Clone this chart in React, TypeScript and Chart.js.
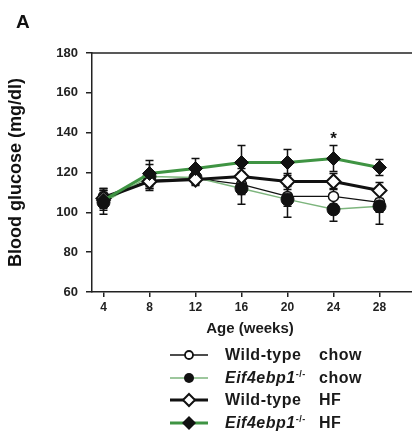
import React, { useEffect, useRef } from "react";
import { Chart, registerables } from "chart.js";

Chart.register(...registerables);

const ages = [4, 8, 12, 16, 20, 24, 28];
const xTicks = [4, 8, 12, 16, 20, 24, 28];
const yTicks = [60, 80, 100, 120, 140, 160, 180];

const wtChow = [108, 116, 117, 114, 108, 108, 105];
const wtChowSem = [4, 4, 3, 5, 5, 4, 5];
const koChow = [105, 118, 117.5, 112, 106.5, 101.5, 103];
const koChowSem = [6, 6, 3, 8, 9, 6, 9];
const wtHf = [107, 115.5, 116.5, 118, 115.5, 115.5, 111];
const wtHfSem = [5, 4.5, 3, 4, 4, 4, 4];
const koHf = [106, 119.5, 122, 125, 125, 127, 122.5];
const koHfSem = [5, 6.5, 5, 8.5, 6.5, 6.5, 4];
const significance = ["", "", "", "", "", "*", ""];

const GREEN = "#3f9443";
const LIGHT_GREEN = "#7db57d";
const FONT = '"Liberation Sans", Arial, sans-serif';

const toPoints = (vals: number[]) => vals.map((v, i) => ({ x: ages[i], y: v }));

const errorBarPlugin = {
  id: "errorBars",
  beforeDatasetsDraw(chart: any) {
    const { ctx } = chart;
    const x = chart.scales.x;
    const y = chart.scales.y;
    ctx.save();
    chart.data.datasets.forEach((ds: any) => {
      const sem: number[] = ds.sem;
      if (!sem) return;
      ctx.strokeStyle = "#111";
      ctx.lineWidth = 1.5;
      ds.data.forEach((p: any, i: number) => {
        const px = x.getPixelForValue(p.x);
        const top = y.getPixelForValue(p.y + sem[i]);
        const bot = y.getPixelForValue(p.y - sem[i]);
        ctx.beginPath();
        ctx.moveTo(px, top);
        ctx.lineTo(px, bot);
        ctx.moveTo(px - 4, top);
        ctx.lineTo(px + 4, top);
        ctx.moveTo(px - 4, bot);
        ctx.lineTo(px + 4, bot);
        ctx.stroke();
      });
    });
    ctx.restore();
  },
  afterDatasetsDraw(chart: any) {
    const { ctx, chartArea } = chart;
    const x = chart.scales.x;
    const y = chart.scales.y;
    ctx.save();
    ctx.strokeStyle = "#222";
    ctx.lineWidth = 1.5;
    ctx.beginPath();
    ctx.moveTo(chartArea.left, chartArea.top);
    ctx.lineTo(chartArea.right, chartArea.top);
    ctx.stroke();
    ctx.fillStyle = "#111";
    ctx.font = `bold 17px ${FONT}`;
    ctx.textAlign = "center";
    ctx.textBaseline = "middle";
    significance.forEach((s, i) => {
      if (!s) return;
      const px = x.getPixelForValue(ages[i]);
      const py = y.getPixelForValue(koHf[i] + koHfSem[i]) - 9;
      ctx.fillText(s, px, py + 3);
    });
    ctx.restore();
  },
};

function ChartCanvas() {
  const ref = useRef<HTMLCanvasElement | null>(null);
  useEffect(() => {
    if (!ref.current) return;
    const chart = new Chart(ref.current, {
      type: "line",
      data: {
        datasets: [
          {
            label: "Eif4ebp1-/- HF",
            data: toPoints(koHf),
            sem: koHfSem,
            borderColor: GREEN,
            borderWidth: 3,
            pointStyle: "rectRot",
            pointRadius: 7,
            pointBackgroundColor: "#111",
            pointBorderColor: "#111",
            pointBorderWidth: 1,
          },
          {
            label: "Wild-type HF",
            data: toPoints(wtHf),
            sem: wtHfSem,
            borderColor: "#111",
            borderWidth: 3,
            pointStyle: "rectRot",
            pointRadius: 7,
            pointBackgroundColor: "#fff",
            pointBorderColor: "#111",
            pointBorderWidth: 2,
          },
          {
            label: "Eif4ebp1-/- chow",
            data: toPoints(koChow),
            sem: koChowSem,
            borderColor: LIGHT_GREEN,
            borderWidth: 1.5,
            pointStyle: "circle",
            pointRadius: 6.5,
            pointBackgroundColor: "#111",
            pointBorderColor: "#111",
            pointBorderWidth: 1,
          },
          {
            label: "Wild-type chow",
            data: toPoints(wtChow),
            sem: wtChowSem,
            borderColor: "#111",
            borderWidth: 1.2,
            pointStyle: "circle",
            pointRadius: 5,
            pointBackgroundColor: "#fff",
            pointBorderColor: "#111",
            pointBorderWidth: 1.5,
          },
        ] as any,
      },
      options: {
        responsive: false,
        animation: false,
        devicePixelRatio: 1,
        layout: { padding: { top: 53, left: 0, right: 0, bottom: 0 } },
        plugins: { legend: { display: false }, tooltip: { enabled: false } },
        elements: { line: { tension: 0 } },
        scales: {
          x: {
            type: "linear",
            min: 3,
            max: 31,
            afterBuildTicks: (s: any) => {
              s.ticks = xTicks.map((v) => ({ value: v }));
            },
            afterFit: (s: any) => {
              s.height = 48;
            },
            grid: {
              display: true,
              drawOnChartArea: false,
              drawTicks: true,
              tickLength: 5,
              color: "#222",
              lineWidth: 1.5,
            },
            border: { display: true, color: "#222", width: 1.5 },
            ticks: {
              color: "#222",
              font: { family: FONT, size: 12, weight: "bold" },
              padding: 3,
              maxRotation: 0,
              autoSkip: false,
            },
          },
          y: {
            type: "linear",
            min: 60,
            max: 180,
            afterBuildTicks: (s: any) => {
              s.ticks = yTicks.map((v) => ({ value: v }));
            },
            afterFit: (s: any) => {
              s.width = 92;
            },
            grid: {
              display: true,
              drawOnChartArea: false,
              drawTicks: true,
              tickLength: 6,
              color: "#222",
              lineWidth: 1.5,
            },
            border: { display: true, color: "#222", width: 1.5 },
            ticks: {
              color: "#222",
              font: { family: FONT, size: 13, weight: "bold" },
              padding: 8,
            },
            title: {
              display: true,
              text: "Blood glucose (mg/dl)",
              color: "#111",
              font: { family: FONT, size: 18, weight: "bold" },
              padding: { top: 5, bottom: 0 },
            },
          },
        },
      } as any,
      plugins: [errorBarPlugin],
    });
    return () => chart.destroy();
  }, []);
  return (
    <canvas
      ref={ref}
      width={423}
      height={340}
      style={{ position: "absolute", left: 0, top: 0, width: 423, height: 340 }}
    />
  );
}

function Symbol({ kind }: { kind: string }) {
  const line =
    kind === "wtChow"
      ? { c: "#111", w: 1.5 }
      : kind === "koChow"
      ? { c: LIGHT_GREEN, w: 1.5 }
      : kind === "wtHf"
      ? { c: "#111", w: 3 }
      : { c: GREEN, w: 3 };
  let marker: any = null;
  if (kind === "wtChow") marker = <circle cx={20} cy={10} r={4} fill="#fff" stroke="#111" strokeWidth={1.8} />;
  if (kind === "koChow") marker = <circle cx={20} cy={10} r={5} fill="#111" />;
  if (kind === "wtHf")
    marker = <polygon points="20,4 26,10 20,16 14,10" fill="#fff" stroke="#111" strokeWidth={2} />;
  if (kind === "koHf") marker = <polygon points="20,3 27,10 20,17 13,10" fill="#111" />;
  return (
    <svg width={40} height={20} style={{ position: "absolute", left: 169, top: 0 }}>
      <line x1={1} y1={10} x2={39} y2={10} stroke={line.c} strokeWidth={line.w} />
      {marker}
    </svg>
  );
}

const legendRows = [
  { kind: "wtChow", ko: false, diet: "chow" },
  { kind: "koChow", ko: true, diet: "chow" },
  { kind: "wtHf", ko: false, diet: "HF" },
  { kind: "koHf", ko: true, diet: "HF" },
];
const legendCenters = [355, 377.7, 400.3, 423];

export default function App() {
  const textStyle: any = {
    position: "absolute",
    top: 0,
    lineHeight: "20px",
    fontSize: 16,
    fontWeight: "bold",
    color: "#1a1a1a",
    whiteSpace: "nowrap",
    letterSpacing: 0.5,
  };
  return (
    <div
      style={{
        position: "absolute",
        left: 0,
        top: 0,
        width: 412,
        height: 431,
        overflow: "hidden",
        background: "#fff",
        fontFamily: FONT,
      }}
    >
      <ChartCanvas />
      <div
        style={{
          position: "absolute",
          left: 16,
          top: 12,
          fontSize: 19,
          fontWeight: "bold",
          lineHeight: "20px",
          color: "#111",
        }}
      >
        A
      </div>
      <div
        style={{
          position: "absolute",
          left: 150,
          width: 200,
          top: 319,
          textAlign: "center",
          fontSize: 15,
          fontWeight: "bold",
          lineHeight: "18px",
          color: "#1a1a1a",
        }}
      >
        Age (weeks)
      </div>
      {legendRows.map((r, i) => (
        <div
          key={i}
          style={{ position: "absolute", left: 0, top: legendCenters[i] - 10, width: 412, height: 20 }}
        >
          <Symbol kind={r.kind} />
          <span style={{ ...textStyle, left: 225 }}>
            {r.ko ? (
              <>
                <i>Eif4ebp1</i>
                <sup style={{ fontSize: 9, verticalAlign: "6px", lineHeight: 0 }}>-/-</sup>
              </>
            ) : (
              "Wild-type"
            )}
          </span>
          <span style={{ ...textStyle, left: 319 }}>{r.diet}</span>
        </div>
      ))}
    </div>
  );
}
